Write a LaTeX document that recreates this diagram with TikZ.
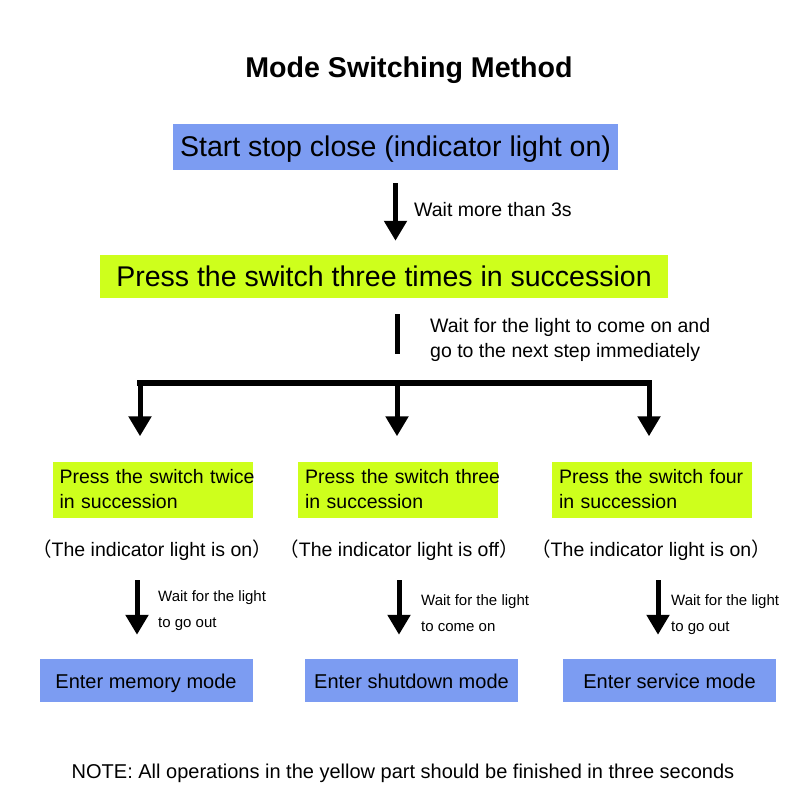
\documentclass[tikz,border=0pt]{standalone}
\usepackage{fontspec}
\setmainfont{Liberation Sans}
\newfontfamily\cjk{Noto Sans CJK SC}
\usetikzlibrary{arrows.meta}
\definecolor{boxblue}{RGB}{124,156,242}
\definecolor{boxgreen}{RGB}{206,255,28}
\tikzset{
  bluebox/.style={fill=boxblue, draw=none, inner sep=0pt},
  greenbox/.style={fill=boxgreen, draw=none, inner sep=0pt},
  arr/.style={line width=5pt, -{Triangle[width=22pt,length=20pt]}},
  lbl/.style={anchor=west, inner sep=0pt, align=left},
}
\begin{document}
\begin{tikzpicture}[x=1pt,y=-1pt]
\useasboundingbox (0,0) rectangle (800,800);
\fill[white] (0,0) rectangle (800,800);
% title
\node[font=\fontsize{28.6}{32}\selectfont\bfseries] (title) at (409,70) {Mode Switching Method};
% top boxes
\node[bluebox, minimum width=445pt, minimum height=46pt, text height=24pt, text depth=6pt, font=\fontsize{28.5}{32}\selectfont] (b1) at (395.5,147) {Start stop close (indicator light on)};
\node[greenbox, minimum width=568pt, minimum height=43pt, font=\fontsize{28.5}{32}\selectfont] (b2) at (384,276.5) {Press the switch three times in succession};
% arrow 1
\draw[arr, shorten <=13pt, shorten >=14pt] (b1.south) -- (b1.south |- b2.north);
\node[lbl, font=\fontsize{19.5}{22}\selectfont] (l1) at (414,210) {Wait more than 3s};
% bar and split
\coordinate (j) at (397,383);
\coordinate (jl) at (137,383);
\coordinate (jr) at (652,383);
\draw[line width=5pt, shorten <=16pt, shorten >=29pt] (b2.south -| j) -- (j);
\node[lbl, font=\fontsize{19.5}{25}\selectfont] (l2) at (430,339.5) {Wait for the light to come on and\\go to the next step immediately};
\draw[line width=6pt] (jl) -- (jr);
% mid boxes
\tikzset{midbox/.style={greenbox, minimum height=56pt, text width=186pt, inner xsep=7pt, align=left, font=\fontsize{19.5}{25}\selectfont}}
\node[midbox] (pA) at (152.5,489.5) {\mbox{Press the switch twice}\\\mbox{in succession}};
\node[midbox] (pB) at (398,489.5) {\mbox{Press the switch three}\\\mbox{in succession}};
\node[midbox] (pC) at (652,489.5) {\mbox{Press the switch four}\\\mbox{in succession}};
\coordinate (a1) at (140,383);
\coordinate (a2) at (397,383);
\coordinate (a3) at (649,383);
\draw[arr, shorten >=25pt] (a1) -- (a1 |- pA.north);
\draw[arr, shorten >=25pt] (a2) -- (a2 |- pB.north);
\draw[arr, shorten >=25pt] (a3) -- (a3 |- pC.north);
% paren texts
\tikzset{paren/.style={font=\fontsize{19.5}{22}\selectfont, inner sep=0pt}}
\node[paren] (sA) at (152,550) {{\cjk （}The indicator light is on{\cjk ）}};
\node[paren] (sB) at (399,550) {{\cjk （}The indicator light is off{\cjk ）}};
\node[paren] (sC) at (651,550) {{\cjk （}The indicator light is on{\cjk ）}};
% bottom boxes
\tikzset{endbox/.style={bluebox, minimum width=213pt, minimum height=43pt, text height=15pt, text depth=0pt, font=\fontsize{20}{24}\selectfont}}
\node[endbox] (mA) at (146,680.5) {Enter memory mode};
\node[endbox] (mB) at (411.5,680.5) {Enter shutdown mode};
\node[endbox] (mC) at (669.5,680.5) {Enter service mode};
\coordinate (c1) at (137,580);
\coordinate (c2) at (399,580);
\coordinate (c3) at (658,580);
\draw[arr, shorten >=24pt] (c1) -- (c1 |- mA.north);
\draw[arr, shorten >=24pt] (c2) -- (c2 |- mB.north);
\draw[arr, shorten >=24pt] (c3) -- (c3 |- mC.north);
\tikzset{small/.style={lbl, font=\fontsize{15}{26}\selectfont}}
\node[small] (wA) at (158,611) {Wait for the light\\to go out};
\node[small] (wB) at (421,613) {Wait for the light\\to come on};
\node[small] (wC) at (671,615) {Wait for the light\\to go out};
% note
\node[font=\fontsize{20}{22}\selectfont] (note) at (403,773) {NOTE: All operations in the yellow part should be finished in three seconds};
\end{tikzpicture}
\end{document}
